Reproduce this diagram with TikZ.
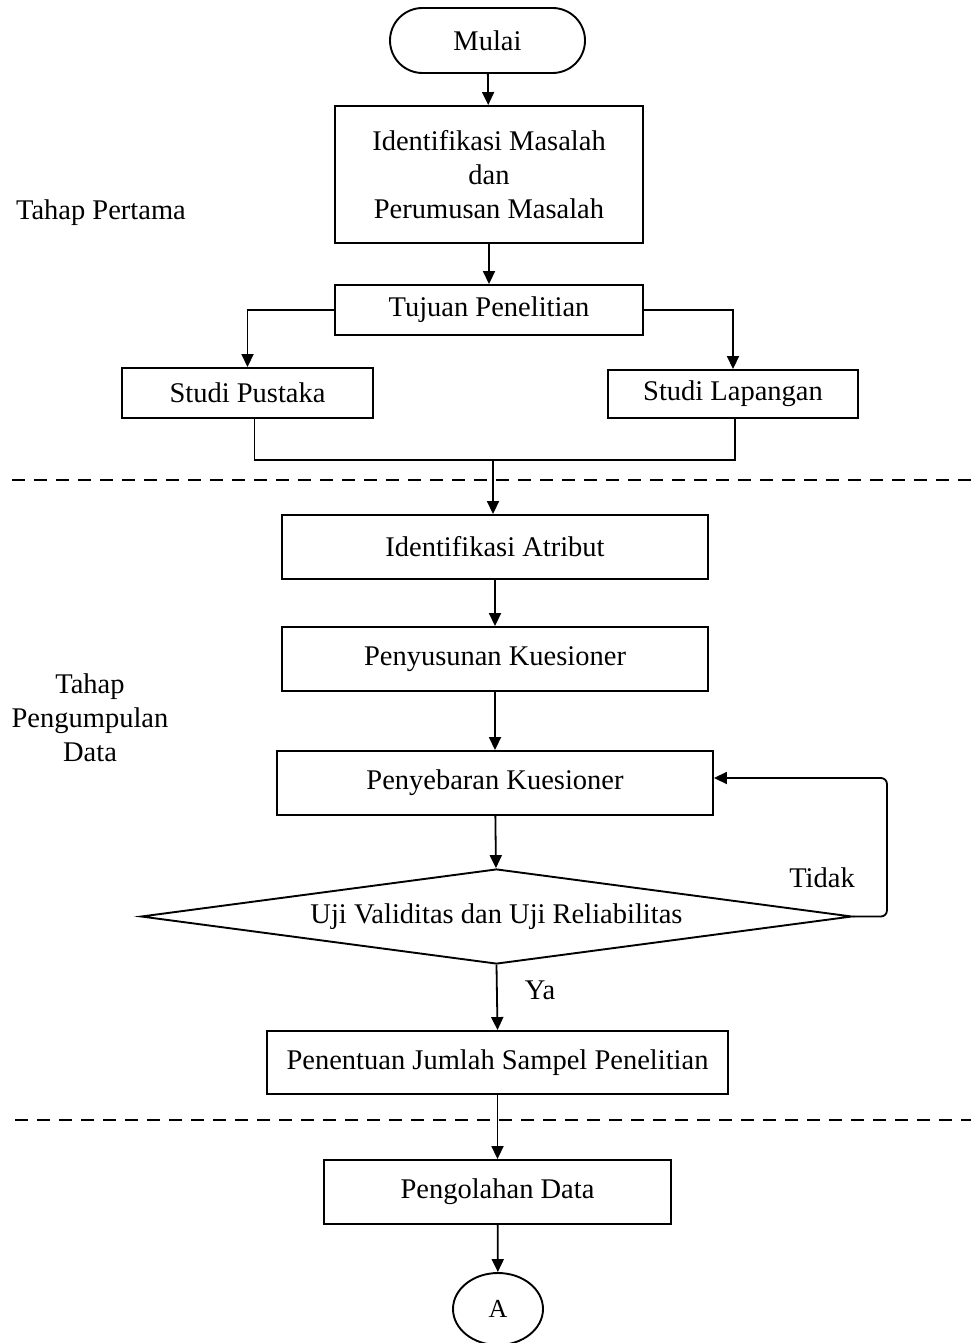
\documentclass[tikz,border=0pt]{standalone}
\usepackage{fontspec}
\setmainfont{Liberation Serif}
\usetikzlibrary{arrows.meta,shapes.misc,shapes.geometric}
\begin{document}
\begin{tikzpicture}[x=1pt,y=-1pt,
  every node/.style={font=\fontsize{28.5}{34}\selectfont},
  box/.style={draw,line width=1.9pt,rectangle,inner sep=0pt,align=center},
  conn/.style={line width=1.8pt},
  arr/.style={conn,-{Triangle[length=13pt,width=12pt]}},
  sep/.style={line width=2pt,dash pattern=on 13pt off 9pt},
  lbl/.style={inner sep=0pt,align=center}]
\useasboundingbox (0,0) rectangle (971,1343);

\node[box,rounded rectangle,minimum width=195pt,minimum height=65pt] (mulai) at (487.5,40.5) {Mulai};
\node[box,minimum width=308pt,minimum height=137pt] (idm) at (489,174.5) {Identifikasi Masalah\\dan\\Perumusan Masalah};
\node[box,minimum width=308pt,minimum height=50pt] (tujuan) at (489,310) {Tujuan Penelitian};
\node[box,minimum width=251pt,minimum height=50pt] (pustaka) at (247.5,393) {Studi Pustaka};
\node[box,minimum width=250pt,minimum height=48pt] (lapangan) at (733,394) {Studi Lapangan};
\node[box,minimum width=426pt,minimum height=64pt] (atribut) at (495,547) {Identifikasi Atribut};
\node[box,minimum width=426pt,minimum height=64pt] (susun) at (495,659) {Penyusunan Kuesioner};
\node[box,minimum width=436pt,minimum height=64pt] (sebar) at (495,783) {Penyebaran Kuesioner};
\node[box,diamond,shape aspect=7.48,minimum width=711pt,minimum height=95pt] (uji) at (496.5,916.5) {Uji Validitas dan Uji Reliabilitas};
\node[box,minimum width=461pt,minimum height=63pt] (tentu) at (497.5,1062.5) {Penentuan Jumlah Sampel Penelitian};
\node[box,minimum width=347pt,minimum height=64pt] (olah) at (497.5,1192) {Pengolahan Data};
\node[box,ellipse,minimum width=90pt,minimum height=72pt] (a) at (498,1309) {\fontsize{26}{30}\selectfont A};

\node[lbl] (t1) at (101,213) {Tahap Pertama};
\node[lbl] (t2) at (90,718) {Tahap\\Pengumpulan\\Data};
\node[lbl] (tidak) at (822,878) {Tidak};
\node[lbl] (ya) at (540,990) {Ya};

\coordinate (merge) at (493,460);

\draw[sep] (12,480) -- (971,480);
\draw[sep] (15,1120) -- (971,1120);

\draw[arr] (mulai) -- (idm);
\draw[arr] (idm) -- (tujuan);
\draw[arr] (tujuan.west) -| (pustaka.north);
\draw[arr] (tujuan.east) -| (lapangan.north);
\draw[conn] ([xshift=7pt]pustaka.south) |- (merge) -| ([xshift=2pt]lapangan.south);
\draw[arr] (merge) -- (merge |- atribut.north);
\draw[arr] (atribut) -- (susun);
\draw[arr] (susun) -- (sebar);
\draw[arr] (sebar) -- (uji);
\draw[arr,rounded corners=6pt] (uji.east) -- ++(34,0) |- ([yshift=5pt]sebar.east);
\draw[arr] (uji.south) -- (tentu.north);
\draw[arr] (tentu) -- (olah);
\draw[arr] (olah) -- (a);
\end{tikzpicture}
\end{document}
